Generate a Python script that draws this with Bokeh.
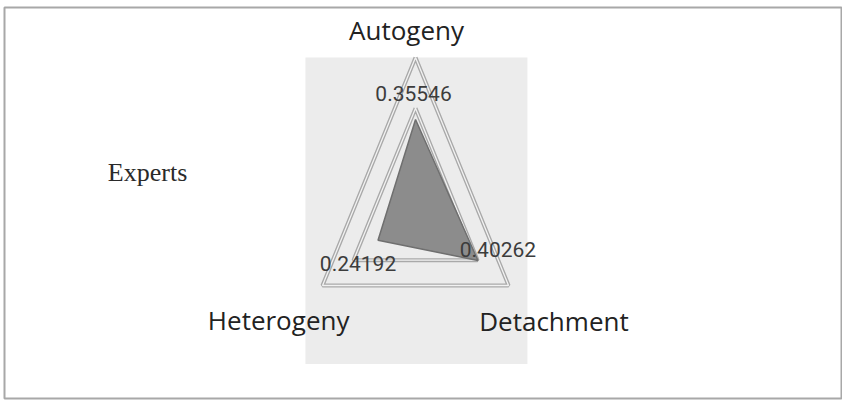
import numpy as np
from bokeh.plotting import figure
from bokeh.models import Range1d, BoxAnnotation, Label
from bokeh.core.properties import value
from bokeh.embed import file_html
from bokeh.resources import INLINE

# ---- data ----
categories = ["Autogeny", "Detachment", "Heterogeny"]
values = [0.35546, 0.40262, 0.24192]
value_labels = ["0.35546", "0.40262", "0.24192"]
grid_levels = [0.4, 0.6]
series_name = "Experts"

# ---- geometry / style ----
angles_deg = [90, -30, 210]
angles = np.radians(angles_deg)
cat_label_r = [0.71, 0.88, 0.87]
cat_x_off = [-9, 2, -2]
val_off = [(-2, 26), (20, 11), (-20, -23)]  # pixel offsets (x right, y up) for value labels

p = figure(width=842, height=400, output_backend="svg", toolbar_location=None,
           x_range=Range1d(-2.296, 2.385), y_range=Range1d(-0.746, 0.7975),
           min_border=0, min_border_left=4, min_border_right=0,
           min_border_top=7, min_border_bottom=2)
p.axis.visible = False
p.xgrid.visible = False
p.ygrid.visible = False
p.background_fill_color = "white"
p.border_fill_color = "white"
p.outline_line_color = "#a8a8a8"
p.outline_line_width = 2

# plot-area panel
p.add_layout(BoxAnnotation(left=-0.615, right=0.625, top=0.6, bottom=-0.61,
                           fill_color="#ececec", fill_alpha=1.0, line_color=None,
                           level="underlay"))

# grid triangles
for lev in grid_levels:
    xs = list(lev * np.cos(angles)) + [lev * np.cos(angles[0])]
    ys = list(lev * np.sin(angles)) + [lev * np.sin(angles[0])]
    p.line(xs, ys, line_color="#a9a9a9", line_width=4)
    p.line(xs, ys, line_color="#f2f2f2", line_width=1.3)

# data polygon
dx = [v * np.cos(a) for v, a in zip(values, angles)]
dy = [v * np.sin(a) for v, a in zip(values, angles)]
p.patch(dx, dy, fill_color="#8c8c8c", fill_alpha=1.0, line_color="#6f6f6f", line_width=1.5)

# category labels
for r, a, t, ox in zip(cat_label_r, angles, categories, cat_x_off):
    p.add_layout(Label(x=r * np.cos(a), y=r * np.sin(a), text=t, x_offset=ox,
                       text_font="Open Sans", text_font_size="26px",
                       text_color="#222222", text_align="center", text_baseline="middle"))

# value labels
for x, y, t, (ox, oy) in zip(dx, dy, value_labels, val_off):
    p.add_layout(Label(x=x, y=y, text=t, x_offset=ox, y_offset=oy,
                       text_font="Roboto", text_font_size="21px",
                       text_color="#3c3c3c", text_align="center", text_baseline="middle"))

# series name
p.add_layout(Label(x=-1.497, y=0.146, text=series_name, text_font="Liberation Serif",
                   text_font_size="26px", text_color="#2a2a2a",
                   text_align="center", text_baseline="middle"))

open("out.html", "w").write(file_html(p, INLINE))
